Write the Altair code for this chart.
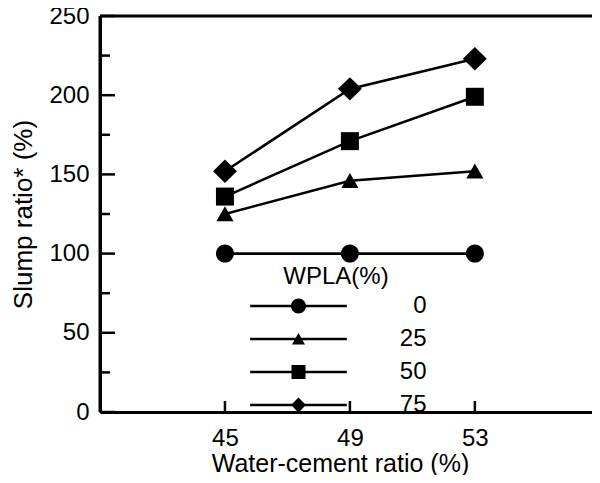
import altair as alt
import pandas as pd

# ---- data ----
wc_ratio = [45, 49, 53]
wpla_levels = ["0", "25", "50", "75"]
slump_0 = [100, 100, 100]
slump_25 = [125, 146, 152]
slump_50 = [136, 171, 199]
slump_75 = [152, 204, 223]

y_major = [0, 50, 100, 150, 200, 250]
y_minor = [25, 75, 125, 175, 225]
x_ticks = [45, 49, 53]
x_min, x_max = 41, 56.75
y_min, y_max = 0, 250

series = [slump_0, slump_25, slump_50, slump_75]
rows = []
for lvl, vals in zip(wpla_levels, series):
    for x, v in zip(wc_ratio, vals):
        rows.append({"wc": x, "slump": v, "WPLA": lvl})
df = pd.DataFrame(rows)

FONT = "Liberation Sans"

plot_shapes = [
    "M-1,0 A1,1 0 1,1 1,0 A1,1 0 1,1 -1,0 Z",
    "M0,-0.85 L0.95,0.8 L-0.95,0.8 Z",
    "M-1,-1 L1,-1 L1,1 L-1,1 Z",
    "M-1.33,0 L0,-1.3 L1.33,0 L0,1.3 Z",
]
line_part = "M-6.9,-0.18 L6.9,-0.18 L6.9,0.18 L-6.9,0.18 Z "
legend_shapes = [
    line_part + "M-1.07,0 A1.07,1.07 0 1,1 1.07,0 A1.07,1.07 0 1,1 -1.07,0 Z",
    line_part + "M0,-0.85 L0.93,0.8 L-0.93,0.8 Z",
    line_part + "M-1,-1 L1,-1 L1,1 L-1,1 Z",
    line_part + "M0,-1.07 L1.07,0 L0,1.07 L-1.07,0 Z",
]

xscale = alt.Scale(domain=[x_min, x_max], nice=False, zero=False)
yscale = alt.Scale(domain=[y_min, y_max], nice=False)

base = alt.Chart(df)

lines = base.mark_line(color="black", strokeWidth=2.6).encode(
    x=alt.X("wc:Q", scale=xscale,
            axis=alt.Axis(values=x_ticks, title="Water-cement ratio (%)",
                          ticks=False, tickSize=0, labelPadding=14,
                          labelFontSize=24, titleFontSize=25,
                          titlePadding=1, labelFont=FONT, titleFont=FONT,
                          labelColor="black", titleColor="black",
                          titleFontWeight="normal",
                          domainColor="black", domainWidth=3, grid=False,
                          titleX=240)),
    y=alt.Y("slump:Q", scale=yscale,
            axis=alt.Axis(values=y_major, title="Slump ratio* (%)",
                          ticks=False, tickSize=0, labelPadding=11,
                          labelFontSize=24, titleFontSize=26,
                          titlePadding=12, labelFont=FONT, titleFont=FONT,
                          labelColor="black", titleColor="black",
                          titleFontWeight="normal",
                          domainColor="black", domainWidth=3, grid=False)),
    detail="WPLA:N",
)

points = base.mark_point(filled=True, opacity=1, size=324, color="black",
                         strokeWidth=0).encode(
    x=alt.X("wc:Q", scale=xscale),
    y=alt.Y("slump:Q", scale=yscale),
    shape=alt.Shape("WPLA:N", sort=wpla_levels,
                    scale=alt.Scale(domain=wpla_levels, range=plot_shapes),
                    legend=None),
)

legend_layer = base.mark_point(filled=True, opacity=0, size=196,
                               color="black", strokeWidth=0).encode(
    x=alt.X("wc:Q", scale=xscale),
    y=alt.Y("slump:Q", scale=yscale),
    shape=alt.Shape("WPLA:N", sort=wpla_levels,
                    scale=alt.Scale(domain=wpla_levels, range=legend_shapes),
                    legend=alt.Legend(
                        title="WPLA(%)", orient="none", legendX=145, legendY=249,
                        padding=0, symbolSize=196, symbolOpacity=1,
                        symbolFillColor="black", symbolStrokeWidth=0,
                        symbolStrokeColor="black",
                        symbolOffset=41.5, labelOffset=116, labelAlign="right",
                        labelFontSize=24, labelFont=FONT, labelColor="black",
                        titleFontSize=24, titleFont=FONT, titleColor="black",
                        titleFontWeight="normal", titleAnchor="middle",
                        titlePadding=5, rowPadding=9)),
)

yt_major = pd.DataFrame({"majval": y_major})
yt_minor = pd.DataFrame({"minval": y_minor})
xt_df = pd.DataFrame({"v": x_ticks, "y0": [y_min] * len(x_ticks)})

# inward ticks on the y axis, placed through the scales
ymaj = alt.Chart(yt_major).mark_point(
    shape="M0,0 L2,0", size=225, filled=False, strokeWidth=2.5,
    color="black", opacity=1
).encode(x=alt.datum(x_min), y=alt.Y("majval:Q", scale=yscale))

ymin = alt.Chart(yt_minor).mark_point(
    shape="M0,0 L2,0", size=100, filled=False, strokeWidth=2.5,
    color="black", opacity=1
).encode(x=alt.datum(x_min), y=alt.Y("minval:Q", scale=yscale))

# inward ticks on the x axis
xt = alt.Chart(xt_df).mark_point(
    shape="M0,0 L0,-2", size=121, filled=False, strokeWidth=2.5,
    color="black", opacity=1
).encode(x=alt.X("v:Q", scale=xscale), y=alt.Y("y0:Q", scale=yscale))

# frame: top and left edges
top_rule = alt.Chart(pd.DataFrame({"v": [y_max]})).mark_rule(
    color="black", strokeWidth=3
).encode(y=alt.Y("v:Q", scale=yscale))

left_rule = alt.Chart(pd.DataFrame({"u": [x_min]})).mark_rule(
    color="black", strokeWidth=3
).encode(x=alt.X("u:Q", scale=xscale))

chart = alt.layer(
    lines, points, legend_layer, xt, top_rule, left_rule, ymaj, ymin
).resolve_scale(shape="independent").properties(
    width=492, height=396, autosize="none",
    padding={"left": 92, "top": 8, "right": 0, "bottom": 63},
    background="white",
).configure_view(stroke=None)

chart.save("out.html", embed_options={"renderer": "svg", "actions": False})
